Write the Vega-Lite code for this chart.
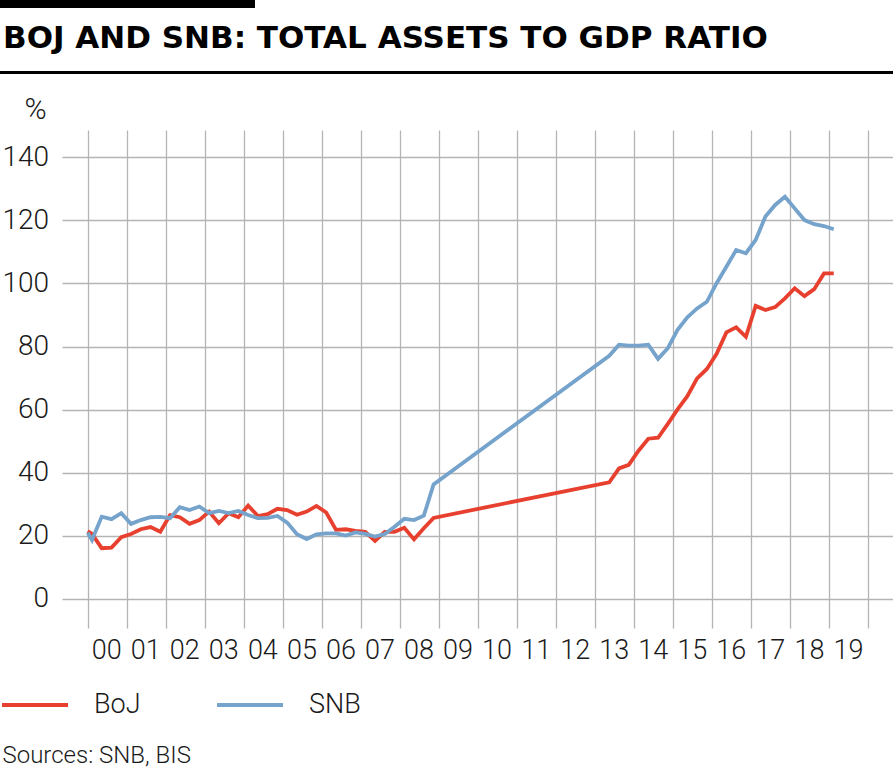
{
  "$schema": "https://vega.github.io/schema/vega-lite/v6.json",
  "width": 831,
  "height": 498,
  "autosize": {"type": "none"},
  "padding": {"left": 62, "top": 130, "right": 0, "bottom": 141},
  "background": "white",
  "title": {
    "text": "BOJ AND SNB: TOTAL ASSETS TO GDP RATIO",
    "anchor": "start",
    "frame": "group",
    "font": "DejaVu Sans",
    "fontSize": 31,
    "fontWeight": "bold",
    "color": "#000000",
    "baseline": "alphabetic",
    "offset": 0,
    "dx": -59,
    "dy": 79
  },
  "config": {
    "view": {"stroke": null},
    "font": "Roboto",
    "axis": {"labelFont": "Roboto", "titleFont": "Roboto", "labelFontWeight": 300, "titleFontWeight": 300}
  },
  "datasets": {
    "series": [
      {"bank": "BoJ", "t": 2000.0, "v": 21.5},
      {"bank": "BoJ", "t": 2000.11, "v": 20.6},
      {"bank": "BoJ", "t": 2000.36, "v": 16.1},
      {"bank": "BoJ", "t": 2000.61, "v": 16.3},
      {"bank": "BoJ", "t": 2000.86, "v": 19.6},
      {"bank": "BoJ", "t": 2001.11, "v": 20.6},
      {"bank": "BoJ", "t": 2001.36, "v": 22.1},
      {"bank": "BoJ", "t": 2001.61, "v": 22.8},
      {"bank": "BoJ", "t": 2001.86, "v": 21.3},
      {"bank": "BoJ", "t": 2002.11, "v": 26.6},
      {"bank": "BoJ", "t": 2002.36, "v": 25.9},
      {"bank": "BoJ", "t": 2002.61, "v": 23.8},
      {"bank": "BoJ", "t": 2002.86, "v": 25.0},
      {"bank": "BoJ", "t": 2003.11, "v": 27.7},
      {"bank": "BoJ", "t": 2003.36, "v": 24.0},
      {"bank": "BoJ", "t": 2003.61, "v": 27.2},
      {"bank": "BoJ", "t": 2003.86, "v": 25.9},
      {"bank": "BoJ", "t": 2004.11, "v": 29.6},
      {"bank": "BoJ", "t": 2004.36, "v": 26.3},
      {"bank": "BoJ", "t": 2004.61, "v": 26.9},
      {"bank": "BoJ", "t": 2004.86, "v": 28.6},
      {"bank": "BoJ", "t": 2005.11, "v": 28.2},
      {"bank": "BoJ", "t": 2005.36, "v": 26.7},
      {"bank": "BoJ", "t": 2005.61, "v": 27.7},
      {"bank": "BoJ", "t": 2005.86, "v": 29.5},
      {"bank": "BoJ", "t": 2006.11, "v": 27.4},
      {"bank": "BoJ", "t": 2006.36, "v": 21.9},
      {"bank": "BoJ", "t": 2006.61, "v": 22.1},
      {"bank": "BoJ", "t": 2006.86, "v": 21.6},
      {"bank": "BoJ", "t": 2007.11, "v": 21.3},
      {"bank": "BoJ", "t": 2007.36, "v": 18.4},
      {"bank": "BoJ", "t": 2007.61, "v": 21.3},
      {"bank": "BoJ", "t": 2007.86, "v": 21.3},
      {"bank": "BoJ", "t": 2008.11, "v": 22.6},
      {"bank": "BoJ", "t": 2008.36, "v": 18.9},
      {"bank": "BoJ", "t": 2008.61, "v": 22.4},
      {"bank": "BoJ", "t": 2008.86, "v": 25.7},
      {"bank": "BoJ", "t": 2013.36, "v": 37.0},
      {"bank": "BoJ", "t": 2013.61, "v": 41.4},
      {"bank": "BoJ", "t": 2013.86, "v": 42.5},
      {"bank": "BoJ", "t": 2014.11, "v": 47.0},
      {"bank": "BoJ", "t": 2014.36, "v": 50.8},
      {"bank": "BoJ", "t": 2014.61, "v": 51.1},
      {"bank": "BoJ", "t": 2014.86, "v": 55.5},
      {"bank": "BoJ", "t": 2015.11, "v": 60.1},
      {"bank": "BoJ", "t": 2015.36, "v": 64.3},
      {"bank": "BoJ", "t": 2015.61, "v": 69.9},
      {"bank": "BoJ", "t": 2015.86, "v": 72.9},
      {"bank": "BoJ", "t": 2016.11, "v": 77.7},
      {"bank": "BoJ", "t": 2016.36, "v": 84.5},
      {"bank": "BoJ", "t": 2016.61, "v": 86.1},
      {"bank": "BoJ", "t": 2016.86, "v": 83.1},
      {"bank": "BoJ", "t": 2017.11, "v": 92.9},
      {"bank": "BoJ", "t": 2017.36, "v": 91.6},
      {"bank": "BoJ", "t": 2017.61, "v": 92.5},
      {"bank": "BoJ", "t": 2017.86, "v": 95.3},
      {"bank": "BoJ", "t": 2018.11, "v": 98.5},
      {"bank": "BoJ", "t": 2018.36, "v": 96.0},
      {"bank": "BoJ", "t": 2018.61, "v": 98.2},
      {"bank": "BoJ", "t": 2018.86, "v": 103.2},
      {"bank": "BoJ", "t": 2019.11, "v": 103.2},
      {"bank": "SNB", "t": 2000.0, "v": 21.0},
      {"bank": "SNB", "t": 2000.11, "v": 18.7},
      {"bank": "SNB", "t": 2000.36, "v": 26.1},
      {"bank": "SNB", "t": 2000.61, "v": 25.3},
      {"bank": "SNB", "t": 2000.86, "v": 27.2},
      {"bank": "SNB", "t": 2001.11, "v": 23.8},
      {"bank": "SNB", "t": 2001.36, "v": 25.0},
      {"bank": "SNB", "t": 2001.61, "v": 25.9},
      {"bank": "SNB", "t": 2001.86, "v": 26.0},
      {"bank": "SNB", "t": 2002.11, "v": 25.6},
      {"bank": "SNB", "t": 2002.36, "v": 29.1},
      {"bank": "SNB", "t": 2002.61, "v": 28.2},
      {"bank": "SNB", "t": 2002.86, "v": 29.3},
      {"bank": "SNB", "t": 2003.11, "v": 27.2},
      {"bank": "SNB", "t": 2003.36, "v": 27.9},
      {"bank": "SNB", "t": 2003.61, "v": 27.2},
      {"bank": "SNB", "t": 2003.86, "v": 27.9},
      {"bank": "SNB", "t": 2004.11, "v": 26.6},
      {"bank": "SNB", "t": 2004.36, "v": 25.6},
      {"bank": "SNB", "t": 2004.61, "v": 25.7},
      {"bank": "SNB", "t": 2004.86, "v": 26.3},
      {"bank": "SNB", "t": 2005.11, "v": 24.2},
      {"bank": "SNB", "t": 2005.36, "v": 20.5},
      {"bank": "SNB", "t": 2005.61, "v": 19.0},
      {"bank": "SNB", "t": 2005.86, "v": 20.5},
      {"bank": "SNB", "t": 2006.11, "v": 20.8},
      {"bank": "SNB", "t": 2006.36, "v": 20.8},
      {"bank": "SNB", "t": 2006.61, "v": 20.1},
      {"bank": "SNB", "t": 2006.86, "v": 21.1},
      {"bank": "SNB", "t": 2007.11, "v": 20.6},
      {"bank": "SNB", "t": 2007.36, "v": 19.8},
      {"bank": "SNB", "t": 2007.61, "v": 20.6},
      {"bank": "SNB", "t": 2007.86, "v": 22.9},
      {"bank": "SNB", "t": 2008.11, "v": 25.4},
      {"bank": "SNB", "t": 2008.36, "v": 25.0},
      {"bank": "SNB", "t": 2008.61, "v": 26.4},
      {"bank": "SNB", "t": 2008.86, "v": 36.3},
      {"bank": "SNB", "t": 2013.36, "v": 77.1},
      {"bank": "SNB", "t": 2013.61, "v": 80.6},
      {"bank": "SNB", "t": 2013.86, "v": 80.3},
      {"bank": "SNB", "t": 2014.11, "v": 80.3},
      {"bank": "SNB", "t": 2014.36, "v": 80.6},
      {"bank": "SNB", "t": 2014.61, "v": 76.1},
      {"bank": "SNB", "t": 2014.86, "v": 79.5},
      {"bank": "SNB", "t": 2015.11, "v": 85.3},
      {"bank": "SNB", "t": 2015.36, "v": 89.3},
      {"bank": "SNB", "t": 2015.61, "v": 92.1},
      {"bank": "SNB", "t": 2015.86, "v": 94.2},
      {"bank": "SNB", "t": 2016.11, "v": 100.1},
      {"bank": "SNB", "t": 2016.36, "v": 105.3},
      {"bank": "SNB", "t": 2016.61, "v": 110.6},
      {"bank": "SNB", "t": 2016.86, "v": 109.6},
      {"bank": "SNB", "t": 2017.11, "v": 113.8},
      {"bank": "SNB", "t": 2017.36, "v": 121.2},
      {"bank": "SNB", "t": 2017.61, "v": 124.9},
      {"bank": "SNB", "t": 2017.86, "v": 127.5},
      {"bank": "SNB", "t": 2018.11, "v": 123.8},
      {"bank": "SNB", "t": 2018.36, "v": 120.1},
      {"bank": "SNB", "t": 2018.61, "v": 118.8},
      {"bank": "SNB", "t": 2018.86, "v": 118.2},
      {"bank": "SNB", "t": 2019.11, "v": 117.2}
    ]
  },
  "layer": [
    {
      "data": {"name": "series"},
      "mark": {"type": "line", "strokeWidth": 3.8, "clip": false, "strokeJoin": "miter"},
      "encoding": {
        "x": {
          "field": "t",
          "type": "quantitative",
          "scale": {"domain": [1999.342, 2020.628], "nice": false, "zero": false},
          "axis": {
            "values": [2000, 2001, 2002, 2003, 2004, 2005, 2006, 2007, 2008, 2009, 2010, 2011, 2012, 2013, 2014, 2015, 2016, 2017, 2018, 2019, 2020],
            "labelExpr": "datum.value >= 2020 ? '' : (datum.value < 2010 ? '0' + (datum.value - 2000) : '' + (datum.value - 2000))",
            "grid": true,
            "gridColor": "#b4b4b4",
            "gridWidth": 1.3,
            "domain": false,
            "ticks": false,
            "tickSize": 0,
            "labelOffset": 18.5,
            "labelPadding": 9,
            "labelFontSize": 27,
            "labelColor": "#1a1a1a",
            "labelFlush": false,
            "labelOverlap": false,
            "labelBound": false,
            "title": "Sources: SNB, BIS",
            "titleX": -60,
            "titleY": 134,
            "titleAlign": "left",
            "titleBaseline": "alphabetic",
            "titleFontSize": 24,
            "titleColor": "#1a1a1a"
          }
        },
        "y": {
          "field": "v",
          "type": "quantitative",
          "scale": {"domain": [-9.2, 148.65], "nice": false, "zero": false},
          "axis": {
            "values": [0, 20, 40, 60, 80, 100, 120, 140],
            "grid": true,
            "gridColor": "#b4b4b4",
            "gridWidth": 1.3,
            "domain": false,
            "ticks": false,
            "tickSize": 0,
            "labelPadding": 13.5,
            "labelFontSize": 28,
            "labelColor": "#1a1a1a",
            "labelBaseline": "middle",
            "labelOverlap": false,
            "title": "%",
            "titleAngle": 0,
            "titleX": -38,
            "titleY": -12,
            "titleAlign": "left",
            "titleBaseline": "alphabetic",
            "titleFontSize": 30,
            "titleColor": "#1a1a1a"
          }
        },
        "color": {
          "field": "bank",
          "type": "nominal",
          "scale": {"domain": ["BoJ", "SNB"], "range": ["#e8402f", "#75a3cb"]},
          "legend": {
            "orient": "none",
            "legendX": -62,
            "legendY": 540,
            "direction": "horizontal",
            "title": null,
            "symbolType": "stroke",
            "symbolSize": 4356,
            "symbolStrokeWidth": 4,
            "labelFontSize": 27,
            "labelFont": "Roboto",
            "labelFontWeight": 300,
            "labelOffset": 24,
            "columnPadding": 68,
            "labelColor": "#1a1a1a"
          }
        }
      }
    },
    {
      "data": {"values": [{}]},
      "mark": {"type": "rule", "color": "#000000", "strokeWidth": 3, "clip": false},
      "encoding": {
        "x": {"datum": 1997.754},
        "x2": {"datum": 2020.628},
        "y": {"datum": 166.88}
      }
    },
    {
      "data": {"values": [{}]},
      "mark": {"type": "rule", "color": "#000000", "strokeWidth": 8, "clip": false},
      "encoding": {
        "x": {"datum": 1997.754},
        "x2": {"datum": 2004.285},
        "y": {"datum": 188.59}
      }
    }
  ]
}
